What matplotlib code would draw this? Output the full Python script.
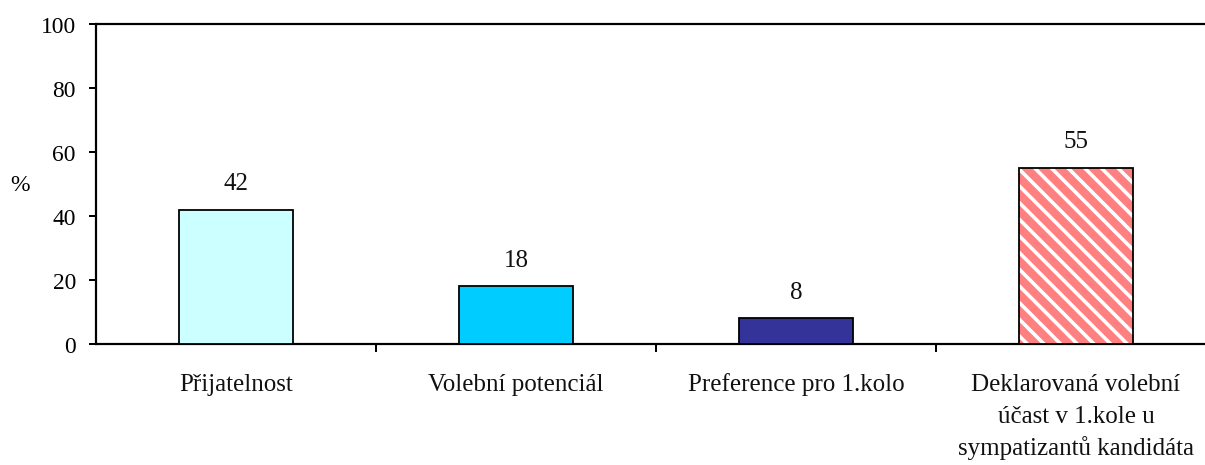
import matplotlib
matplotlib.use("Agg")
import matplotlib.pyplot as plt

categories = ["Přijatelnost", "Volební potenciál", "Preference pro 1.kolo",
              "Deklarovaná volební\núčast v 1.kole u\nsympatizantů kandidáta"]
values = [42, 18, 8, 55]
colors = ["#CCFFFF", "#00CCFF", "#333399", "#FF8080"]
yticks = [0, 20, 40, 60, 80, 100]

DPI = 150
W, H = 1206, 466
def px(v):
    return v * 72.0 / DPI

plt.rcParams['font.family'] = ['Liberation Serif', 'DejaVu Serif']
plt.rcParams['hatch.color'] = 'white'
plt.rcParams['hatch.linewidth'] = px(3.6)

fig = plt.figure(figsize=(W / DPI, H / DPI), dpi=DPI)
ax = fig.add_axes([96 / W, (H - 345) / H, (1216 - 96) / W, 320 / H])

x = list(range(len(values)))
hatches = [None, None, None, '\\\\\\']
for xi, v, c, h in zip(x, values, colors, hatches):
    if h:
        ax.bar(xi, v, width=0.41, color=c, edgecolor='white', linewidth=0, hatch=h, zorder=3)
        ax.bar(xi, v, width=0.41, fill=False, edgecolor='black', linewidth=px(1.8), zorder=4)
    else:
        ax.bar(xi, v, width=0.41, color=c, edgecolor='black', linewidth=px(1.8), zorder=3)

fs = px(25)
tfs = px(23.5)
for xi, v in zip(x, values):
    ax.text(xi, v + 8.4, str(v), ha='center', va='center', fontsize=fs, color='#111111')

ax.set_xlim(-0.5, 3.5)
ax.set_ylim(0, 100)
ax.set_yticks(yticks)
ax.set_yticklabels([str(t) for t in yticks], fontsize=tfs)
ax.set_xticks([0.5, 1.5, 2.5])
ax.set_xticklabels([])
ax.tick_params(axis='x', length=px(8), width=px(2), direction='out')
ax.tick_params(axis='y', length=px(7), width=px(2), direction='out', pad=px(13))

# category labels: one line at a time, fixed line pitch
for xi, cat in zip(x, categories):
    for k, line in enumerate(cat.split('\n')):
        ax.annotate(line, xy=(xi, 0), xycoords=('data', 'axes fraction'),
                    xytext=(0, -(46 + 32 * k)), textcoords='offset pixels',
                    ha='center', va='baseline', fontsize=fs, color='#111111',
                    annotation_clip=False)

ax.set_ylabel('%', rotation=0, fontsize=tfs, va='center', ha='center')
ax.yaxis.set_label_coords(-76 / 1120, 0.5)

for s in ['left', 'bottom', 'top']:
    ax.spines[s].set_linewidth(px(2.2))
ax.spines['right'].set_visible(False)

fig.savefig('out.png', dpi=DPI)
